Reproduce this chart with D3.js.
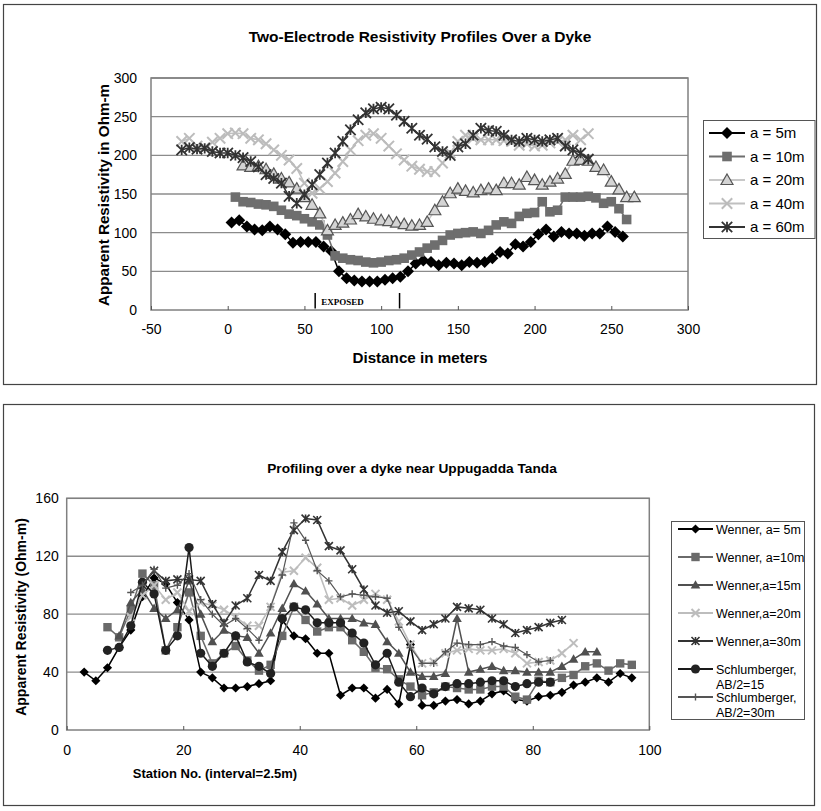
<!DOCTYPE html>
<html>
<head>
<meta charset="utf-8">
<script src="https://cdn.jsdelivr.net/npm/d3@7"></script>
<style>
  body { margin: 0; background: #fff; }
  text { font-family: "Liberation Sans", Arial, sans-serif; fill: #000; }
</style>
</head>
<body>
<script>
// ---- top chart data (distance in m, apparent resistivity in ohm-m) ----
var topNames = ['a = 5m', 'a = 10m', 'a = 20m', 'a = 40m', 'a = 60m'];
var topStart = [2.5, 5, 10, -30, -30];
var topStep = 5;
var topA5 = [113,116,108,104,103,108,104,98,87,88, 88,88,82,76,50,41,38,37,37,37,
  39,41,43,50,60,64,62,58,61,60, 58,62,61,62,67,75,73,85,82,88,
  98,104,95,101,99,99,96,99,99,108, 101,95];
var topA10 = [146,140,139,137,136,134,129,124,122,118, 114,110,97,70,67,65,64,62,61,62,
  64,65,67,71,75,80,84,90,97,99, 100,101,99,103,110,114,112,121,125,126,
  140,127,129,146,146,146,147,145,138,140, 131,117];
var topA20 = [187,185,186,182,176,170,165,157,146,136, 125,103,110,113,117,124,121,118,116,115,
  113,111,109,110,114,129,140,151,157,154, 152,155,157,155,164,164,162,172,168,162,
  166,170,176,193,194,193,185,181,166,156, 146,146];
var topA40 = [218,222,212,210,217,222,228,229,228,222, 220,215,207,200,194,183,164,151,157,166,
  177,192,207,219,226,228,222,212,202,194, 186,182,179,179,190,203,218,226,222,220,
  220,220,219,218,213,215,212,213,216,218, 220,226,220,228];
var topA60 = [207,210,208,209,205,203,203,200,197,192, 185,175,170,164,147,138,149,162,175,190,
  203,218,233,246,255,260,262,260,252,244, 235,226,221,211,205,200,211,215,226,235,
  232,231,226,220,218,222,220,218,220,222, 212,207,203,195];
var topXTicks = [-50, 0, 50, 100, 150, 200, 250, 300];
var topYTicks = [0, 50, 100, 150, 200, 250, 300];
var exposedRange = [57, 112];

// ---- bottom chart data (station no., apparent resistivity in ohm-m) ----
var botNames = ['Wenner, a= 5m', 'Wenner, a=10m', 'Wenner,a=15m', 'Wenner,a=20m',
  'Wenner,a=30m', 'Schlumberger,|AB/2=15', 'Schlumberger,|AB/2=30m'];
var botStart = [3, 7, 9, 11, 13, 7, 11];
var botStep = 2;
var botW5 = [40,34,43,57,69,92,105,101,88,76, 40,36,29,29,30,32,34,76,65,63,
  53,53,24,29,29,22,28,18,59,17, 17,20,21,18,20,25,27,21,20,23,
  24,26,31,33,36,33,39,36];
var botW10 = [71,64,83,108,100,55,71,95,65,46, 53,58,48,41,45,65,85,76,68,71,
  71,62,54,43,42,35,30,24,26,30, 29,28,28,30,30,23,21,34,33,36,
  38,44,46,41,46,45];
var botW15 = [65,88,97,84,77,83,103,80,61,69, 65,64,53,67,84,101,96,87,77,77,
  77,74,73,61,53,40,37,37,39,77, 40,42,44,41,41,40,40,40,44,49,
  54,54];
var botW20 = [78,93,100,90,95,82,88,86,83,78, 72,72,85,109,110,119,112,90,91,86,
  90,94,90,75,59,46,47,53,55,56, 55,55,56,53,46,47,48,53,60];
var botW30 = [100,110,103,104,104,103,87,74,86,91, 107,103,123,138,146,145,127,124,111,97,
  86,81,82,75,69,73,77,85,84,83, 77,73,67,69,71,74,76];
var botS15 = [55,57,72,102,94,55,65,126,53,44, 53,65,47,44,39,77,85,83,74,74,
  74,67,60,45,53,33,23,29,25,30, 32,32,33,34,34,30,32,33,33];
var botS30 = [95,100,111,98,100,108,90,80,72,77, 70,62,85,107,143,131,110,103,92,94,
  93,92,91,71,57,46,46,54,60,59, 59,61,58,57,52,47,48];
var botXTicks = [0, 20, 40, 60, 80, 100];
var botYTicks = [0, 40, 80, 120, 160];

// marker shapes, s = half size
function markerPath(type, s) {
  if (type == 'diamond') return 'M0,' + (-s) + 'L' + s + ',0L0,' + s + 'L' + (-s) + ',0Z';
  if (type == 'square') return 'M' + (-s) + ',' + (-s) + 'H' + s + 'V' + s + 'H' + (-s) + 'Z';
  if (type == 'triangle') return 'M0,' + (-s) + 'L' + s + ',' + (s * 0.75) + 'L' + (-s) + ',' + (s * 0.75) + 'Z';
  if (type == 'x') return 'M' + (-s) + ',' + (-s) + 'L' + s + ',' + s + 'M' + (-s) + ',' + s + 'L' + s + ',' + (-s);
  if (type == 'star') return 'M' + (-s) + ',' + (-s) + 'L' + s + ',' + s + 'M' + (-s) + ',' + s + 'L' + s + ',' + (-s) + 'M0,' + (-s) + 'V' + s;
  if (type == 'plus') return 'M' + (-s) + ',0H' + s + 'M0,' + (-s) + 'V' + s;
  if (type == 'circle') return d3.symbol(d3.symbolCircle, Math.PI * s * s)();
}

function drawMarker(g, st, cx, cy) {
  g.append('path')
    .attr('d', markerPath(st.shape, st.size))
    .attr('transform', 'translate(' + cx + ',' + cy + ')')
    .attr('fill', st.fill || 'none')
    .attr('stroke', st.stroke || 'none')
    .attr('stroke-width', st.sw || 1);
}

var svg = d3.select('body').append('svg')
  .attr('width', 821)
  .attr('height', 811);
svg.append('rect').attr('width', 821).attr('height', 811).attr('fill', '#fff');

var plain = function(d) { return String(d); };

function chart(o) {
  var g = svg.append('g');
  g.append('rect')
    .attr('x', o.box[0]).attr('y', o.box[1]).attr('width', o.box[2]).attr('height', o.box[3])
    .attr('fill', 'none').attr('stroke', '#444').attr('stroke-width', 1.2);

  var x = d3.scaleLinear().domain(o.xDomain).range([o.left, o.right]);
  var y = d3.scaleLinear().domain(o.yDomain).range([o.bottom, o.top]);

  g.selectAll('.grid').data(o.yTicks.slice(1)).enter().append('line')
    .attr('x1', o.left).attr('x2', o.right)
    .attr('y1', function(d) { return y(d); }).attr('y2', function(d) { return y(d); })
    .attr('stroke', '#8c8c8c').attr('stroke-width', 1.3);

  g.append('rect')
    .attr('x', o.left).attr('y', o.top)
    .attr('width', o.right - o.left).attr('height', o.bottom - o.top)
    .attr('fill', 'none').attr('stroke', '#808080').attr('stroke-width', 1.5);

  var xa = g.append('g').attr('transform', 'translate(0,' + o.bottom + ')')
    .call(d3.axisBottom(x).tickValues(o.xTicks).tickFormat(plain).tickSize(-4).tickPadding(o.xPad));
  xa.select('.domain').remove();
  xa.selectAll('line').attr('stroke', '#555');
  xa.selectAll('text').style('font-size', o.tickFont + 'px').attr('fill', '#000')
    .style('font-family', '"Liberation Sans", Arial, sans-serif');

  var ya = g.append('g').attr('transform', 'translate(' + o.left + ',0)')
    .call(d3.axisLeft(y).tickValues(o.yTicks).tickFormat(plain).tickSize(0).tickPadding(o.yPad));
  ya.select('.domain').remove();
  ya.selectAll('text').style('font-size', o.tickFont + 'px').attr('fill', '#000')
    .style('font-family', '"Liberation Sans", Arial, sans-serif');

  g.append('text').attr('x', o.title[0]).attr('y', o.title[1])
    .attr('text-anchor', 'middle').style('font-weight', 'bold').style('font-size', o.titleFont + 'px')
    .text(o.title[2]);
  g.append('text').attr('x', o.xTitle[0]).attr('y', o.xTitle[1])
    .attr('text-anchor', 'middle').style('font-weight', 'bold').style('font-size', o.xTitle[3] + 'px')
    .text(o.xTitle[2]);
  g.append('text')
    .attr('transform', 'translate(' + o.yTitle[0] + ',' + o.yTitle[1] + ') rotate(-90)')
    .attr('text-anchor', 'middle').style('font-weight', 'bold').style('font-size', o.yTitle[3] + 'px')
    .text(o.yTitle[2]);

  var line = d3.line().x(function(d) { return x(d[0]); }).y(function(d) { return y(d[1]); });

  o.series.forEach(function(s) {
    var pts = s.values.map(function(v, i) { return [s.start + i * s.step, v]; });
    g.append('path').datum(pts).attr('d', line)
      .attr('fill', 'none').attr('stroke', s.line).attr('stroke-width', s.lw);
    var mg = g.append('g');
    pts.forEach(function(p) { drawMarker(mg, s.mk, x(p[0]), y(p[1])); });
  });

  // legend
  var L = o.legend;
  g.append('rect').attr('x', L.box[0]).attr('y', L.box[1]).attr('width', L.box[2]).attr('height', L.box[3])
    .attr('fill', '#fff').attr('stroke', '#555').attr('stroke-width', 1);
  o.series.forEach(function(s, i) {
    var ly = L.y0 + i * L.dy;
    g.append('line').attr('x1', L.x1).attr('x2', L.x2).attr('y1', ly).attr('y2', ly)
      .attr('stroke', s.line).attr('stroke-width', Math.max(s.lw, 1.8));
    drawMarker(g, s.mk, (L.x1 + L.x2) / 2, ly);
    var t = g.append('text').attr('x', L.tx).attr('y', ly + L.font * 0.36)
      .style('font-size', L.font + 'px');
    s.name.split('|').forEach(function(part, k) {
      t.append('tspan').attr('x', L.tx).attr('dy', k == 0 ? 0 : L.font * 1.2).text(part);
    });
  });

  return { x: x, y: y, g: g };
}

// ---- top chart ----
var topStyles = [
  { line: '#000', lw: 1.5, mk: { shape: 'diamond', size: 6, fill: '#000' } },
  { line: '#6e6e6e', lw: 1.5, mk: { shape: 'square', size: 4.8, fill: '#6e6e6e' } },
  { line: '#c8c8c8', lw: 1.5, mk: { shape: 'triangle', size: 6, fill: '#d4d4d4', stroke: '#555', sw: 1.2 } },
  { line: '#c0c0c0', lw: 1.5, mk: { shape: 'x', size: 5.2, stroke: '#bcbcbc', sw: 2 } },
  { line: '#333', lw: 1.5, mk: { shape: 'star', size: 5.2, stroke: '#333', sw: 1.8 } }
];
var topVals = [topA5, topA10, topA20, topA40, topA60];
var topChart = chart({
  box: [3.5, 4.5, 813, 380],
  left: 151, right: 688, top: 78, bottom: 310,
  xDomain: [-50, 300], yDomain: [0, 300],
  xTicks: topXTicks, yTicks: topYTicks,
  xPad: 14, yPad: 14, tickFont: 14,
  title: [420, 42, 'Two-Electrode Resistivity Profiles Over a Dyke'], titleFont: 15.5,
  xTitle: [420, 363, 'Distance in meters', 15.2],
  yTitle: [109, 195, 'Apparent Resistivity in Ohm-m', 15.2],
  series: topStyles.map(function(st, i) {
    return { name: topNames[i], values: topVals[i], start: topStart[i], step: topStep,
      line: st.line, lw: st.lw, mk: st.mk };
  }),
  legend: { box: [703.5, 120.5, 111.5, 118], x1: 709, x2: 745, tx: 750, y0: 133, dy: 23.5, font: 15 }
});

// EXPOSED marker
exposedRange.forEach(function(d) {
  topChart.g.append('line')
    .attr('x1', topChart.x(d)).attr('x2', topChart.x(d))
    .attr('y1', topChart.y(22)).attr('y2', topChart.y(2))
    .attr('stroke', '#000').attr('stroke-width', 1.5);
});
topChart.g.append('text')
  .attr('x', topChart.x(exposedRange[0]) + 6).attr('y', topChart.y(6))
  .style('font-family', '"Liberation Serif", "Times New Roman", serif')
  .style('font-weight', 'bold').style('font-size', '9px')
  .text('EXPOSED');

// ---- bottom chart ----
var botStyles = [
  { line: '#000', lw: 1.5, mk: { shape: 'diamond', size: 4.6, fill: '#000' } },
  { line: '#6a6a6a', lw: 1.5, mk: { shape: 'square', size: 4.2, fill: '#6a6a6a' } },
  { line: '#505050', lw: 1.5, mk: { shape: 'triangle', size: 4.8, fill: '#505050' } },
  { line: '#bdbdbd', lw: 1.6, mk: { shape: 'x', size: 4, stroke: '#bdbdbd', sw: 2 } },
  { line: '#333', lw: 1.5, mk: { shape: 'star', size: 4, stroke: '#333', sw: 1.6 } },
  { line: '#1a1a1a', lw: 1.5, mk: { shape: 'circle', size: 4.6, fill: '#222' } },
  { line: '#555', lw: 1.2, mk: { shape: 'plus', size: 3.6, stroke: '#555', sw: 1.4 } }
];
var botVals = [botW5, botW10, botW15, botW20, botW30, botS15, botS30];
chart({
  box: [3.5, 404.5, 811, 401],
  left: 66.7, right: 649.3, top: 498.3, bottom: 730,
  xDomain: [0, 100], yDomain: [0, 160],
  xTicks: botXTicks, yTicks: botYTicks,
  xPad: 15, yPad: 8, tickFont: 14,
  title: [412, 473, 'Profiling over a dyke near Uppugadda Tanda'], titleFont: 13.7,
  xTitle: [215, 778, 'Station No. (interval=2.5m)', 13],
  yTitle: [26, 617, 'Apparent Resistivity (Ohm-m)', 14],
  series: botStyles.map(function(st, i) {
    return { name: botNames[i], values: botVals[i], start: botStart[i], step: botStep,
      line: st.line, lw: st.lw, mk: st.mk };
  }),
  legend: { box: [671.5, 521.5, 133, 198], x1: 678, x2: 713, tx: 716, y0: 529, dy: 28, font: 12.5 }
});
</script>
</body>
</html>
